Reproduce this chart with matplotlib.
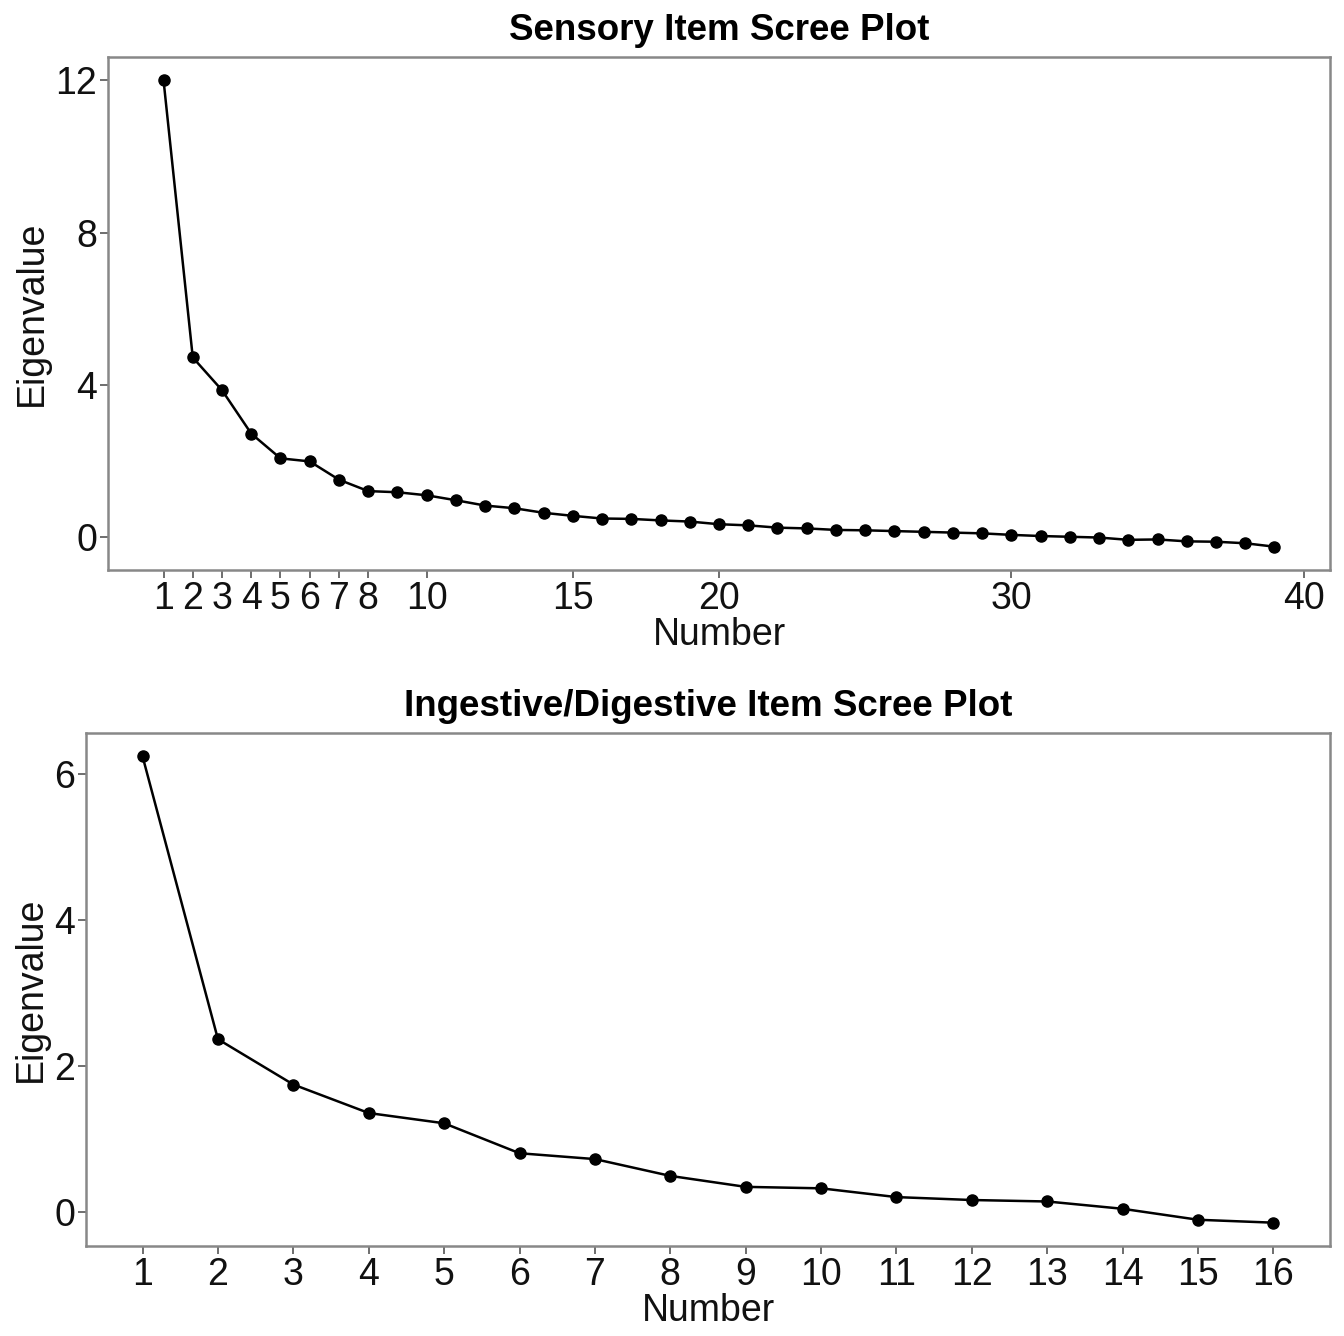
import numpy as np
import matplotlib
matplotlib.use("Agg")
import matplotlib.pyplot as plt

plt.rcParams['font.family'] = ['Liberation Sans', 'DejaVu Sans']

# Sensory item eigenvalues (39 items)
sensory_num = list(range(1, 40))
sensory_eig = [12.0, 4.72, 3.86, 2.72, 2.07, 1.99, 1.51, 1.21, 1.18, 1.10,
               0.97, 0.83, 0.76, 0.64, 0.56, 0.49, 0.48, 0.44, 0.41, 0.34,
               0.31, 0.25, 0.23, 0.19, 0.18, 0.16, 0.14, 0.12, 0.10, 0.06,
               0.03, 0.01, -0.01, -0.07, -0.06, -0.11, -0.12, -0.16, -0.25]
sensory_ticks = [1, 2, 3, 4, 5, 6, 7, 8, 10, 15, 20, 30, 40]

# Ingestive/Digestive item eigenvalues (16 items)
ingest_num = list(range(1, 17))
ingest_eig = [6.24, 2.37, 1.75, 1.36, 1.22, 0.81, 0.73, 0.50, 0.35, 0.33,
              0.21, 0.17, 0.15, 0.05, -0.10, -0.14]
ingest_ticks = list(range(1, 17))

fig = plt.figure(figsize=(13.44, 13.36), dpi=100)
ax1 = fig.add_axes([108 / 1344, 1 - 570 / 1336, 1222 / 1344, 513 / 1336])
ax2 = fig.add_axes([86 / 1344, 1 - 1246 / 1336, 1244 / 1344, 513 / 1336])


def scree(ax, x, y, xticks, yticks, title):
    ax.plot(x, y, color='black', lw=1.8, marker='o', ms=8)
    xr = max(x) - min(x)
    yr = max(y) - min(y)
    ax.set_xlim(min(x) - 0.05 * xr, max(x) + 0.05 * xr)
    ax.set_ylim(min(y) - 0.05 * yr, max(y) + 0.05 * yr)
    ax.set_xticks(xticks)
    ax.set_yticks(yticks)
    ax.tick_params(labelsize=27, length=6, width=1.2, color='#555555',
                   labelcolor='#111111', pad=2)
    for s in ax.spines.values():
        s.set_color('#888888')
        s.set_linewidth(1.8)
    ax.set_xlabel('Number', fontsize=27, labelpad=0, color='#111111')
    ax.set_ylabel('Eigenvalue', fontsize=27, labelpad=4, color='#111111')
    ax.set_title(title, fontsize=26.5, fontweight='bold', pad=12)


scree(ax1, sensory_num, sensory_eig, sensory_ticks, [0, 4, 8, 12],
      'Sensory Item Scree Plot')
scree(ax2, ingest_num, ingest_eig, ingest_ticks, [0, 2, 4, 6],
      'Ingestive/Digestive Item Scree Plot')

fig.savefig('out.png', dpi=100)
